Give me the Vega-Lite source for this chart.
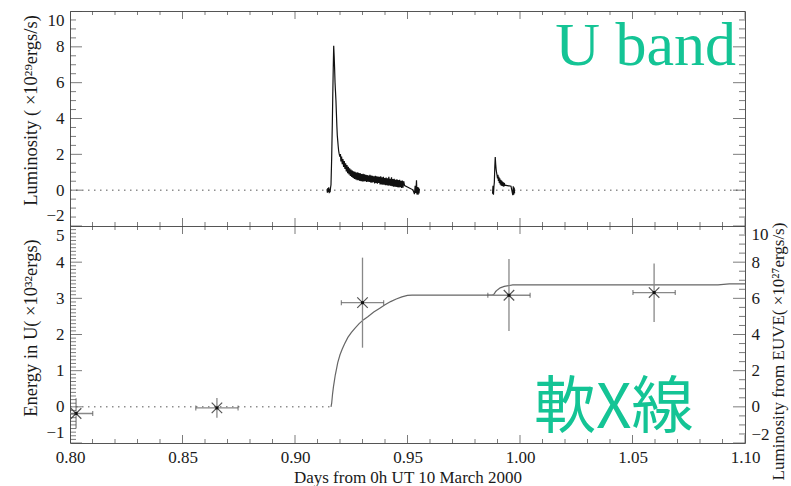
{
  "$schema": "https://vega.github.io/schema/vega-lite/v6.json",
  "padding": {"left": 20, "top": 10, "right": 2, "bottom": 0},
  "background": "white",
  "bounds": "flush",
  "spacing": 0,
  "config": {
    "view": {"stroke": "#555", "strokeWidth": 1},
    "axis": {"grid": false},
    "font": "Liberation Serif"
  },
  "datasets": {
    "u_base": [{"t0": 0.80, "t1": 1.10, "v": 0}],
    "e_base": [{"t0": 0.80, "t1": 0.916, "v": 0}],
    "xticks": [
      {"v": 0.80}, {"v": 0.81}, {"v": 0.82}, {"v": 0.83}, {"v": 0.84}, {"v": 0.85}, {"v": 0.86}, {"v": 0.87},
      {"v": 0.88}, {"v": 0.89}, {"v": 0.90}, {"v": 0.91}, {"v": 0.92}, {"v": 0.93}, {"v": 0.94}, {"v": 0.95},
      {"v": 0.96}, {"v": 0.97}, {"v": 0.98}, {"v": 0.99}, {"v": 1.00}, {"v": 1.01}, {"v": 1.02}, {"v": 1.03},
      {"v": 1.04}, {"v": 1.05}, {"v": 1.06}, {"v": 1.07}, {"v": 1.08}, {"v": 1.09}, {"v": 1.10}
    ],
    "yticks_lum": [
      {"v": -2}, {"v": -1.5}, {"v": -1}, {"v": -0.5}, {"v": 0}, {"v": 0.5}, {"v": 1}, {"v": 1.5}, {"v": 2},
      {"v": 2.5}, {"v": 3}, {"v": 3.5}, {"v": 4}, {"v": 4.5}, {"v": 5}, {"v": 5.5}, {"v": 6}, {"v": 6.5},
      {"v": 7}, {"v": 7.5}, {"v": 8}, {"v": 8.5}, {"v": 9}, {"v": 9.5}, {"v": 10}
    ],
    "yticks_energy": [
      {"v": -1}, {"v": -0.9}, {"v": -0.8}, {"v": -0.7}, {"v": -0.6}, {"v": -0.5}, {"v": -0.4}, {"v": -0.3}, {"v": -0.2}, {"v": -0.1},
      {"v": 0}, {"v": 0.1}, {"v": 0.2}, {"v": 0.3}, {"v": 0.4}, {"v": 0.5}, {"v": 0.6}, {"v": 0.7}, {"v": 0.8}, {"v": 0.9},
      {"v": 1}, {"v": 1.1}, {"v": 1.2}, {"v": 1.3}, {"v": 1.4}, {"v": 1.5}, {"v": 1.6}, {"v": 1.7}, {"v": 1.8}, {"v": 1.9},
      {"v": 2}, {"v": 2.1}, {"v": 2.2}, {"v": 2.3}, {"v": 2.4}, {"v": 2.5}, {"v": 2.6}, {"v": 2.7}, {"v": 2.8}, {"v": 2.9},
      {"v": 3}, {"v": 3.1}, {"v": 3.2}, {"v": 3.3}, {"v": 3.4}, {"v": 3.5}, {"v": 3.6}, {"v": 3.7}, {"v": 3.8}, {"v": 3.9},
      {"v": 4}, {"v": 4.1}, {"v": 4.2}, {"v": 4.3}, {"v": 4.4}, {"v": 4.5}, {"v": 4.6}, {"v": 4.7}, {"v": 4.8}, {"v": 4.9},
      {"v": 5}
    ],
    "u_band": [
      {"t": 0.9142, "L": 0.05, "seg": 1}, {"t": 0.9144, "L": -0.14, "seg": 1}, {"t": 0.9146, "L": 0.12, "seg": 1},
      {"t": 0.9148, "L": -0.10, "seg": 1}, {"t": 0.9150, "L": 0.16, "seg": 1}, {"t": 0.9152, "L": -0.17, "seg": 1},
      {"t": 0.9154, "L": 0.08, "seg": 1}, {"t": 0.9156, "L": -0.12, "seg": 1}, {"t": 0.9158, "L": 0.14, "seg": 1},
      {"t": 0.9160, "L": 0.30, "seg": 1}, {"t": 0.9163, "L": 1.80, "seg": 1}, {"t": 0.9166, "L": 3.80, "seg": 1},
      {"t": 0.9168, "L": 5.40, "seg": 1}, {"t": 0.9170, "L": 6.80, "seg": 1}, {"t": 0.9172, "L": 8.06, "seg": 1},
      {"t": 0.9174, "L": 7.50, "seg": 1}, {"t": 0.9176, "L": 6.80, "seg": 1}, {"t": 0.9178, "L": 6.00, "seg": 1},
      {"t": 0.9180, "L": 5.50, "seg": 1}, {"t": 0.9182, "L": 5.00, "seg": 1}, {"t": 0.9184, "L": 4.30, "seg": 1},
      {"t": 0.9186, "L": 3.60, "seg": 1}, {"t": 0.9188, "L": 3.05, "seg": 1}, {"t": 0.9190, "L": 2.75, "seg": 1},
      {"t": 0.9192, "L": 2.45, "seg": 1}, {"t": 0.9194, "L": 2.20, "seg": 1}, {"t": 0.9196, "L": 2.05, "seg": 1},
      {"t": 0.9198, "L": 1.95, "seg": 1}, {"t": 0.9200, "L": 1.86, "seg": 1}, {"t": 0.9202, "L": 2.02, "seg": 1},
      {"t": 0.9204, "L": 1.60, "seg": 1}, {"t": 0.9207, "L": 1.88, "seg": 1}, {"t": 0.9210, "L": 1.45, "seg": 1},
      {"t": 0.9213, "L": 1.74, "seg": 1}, {"t": 0.9216, "L": 1.30, "seg": 1}, {"t": 0.9219, "L": 1.62, "seg": 1},
      {"t": 0.9222, "L": 1.18, "seg": 1}, {"t": 0.9225, "L": 1.50, "seg": 1}, {"t": 0.9228, "L": 1.05, "seg": 1},
      {"t": 0.9231, "L": 1.40, "seg": 1}, {"t": 0.9234, "L": 0.95, "seg": 1}, {"t": 0.9237, "L": 1.30, "seg": 1},
      {"t": 0.9240, "L": 0.88, "seg": 1}, {"t": 0.9243, "L": 1.22, "seg": 1}, {"t": 0.9246, "L": 0.80, "seg": 1},
      {"t": 0.9249, "L": 1.15, "seg": 1}, {"t": 0.9252, "L": 0.74, "seg": 1}, {"t": 0.9255, "L": 1.10, "seg": 1},
      {"t": 0.9258, "L": 0.68, "seg": 1}, {"t": 0.9261, "L": 1.05, "seg": 1}, {"t": 0.9264, "L": 0.62, "seg": 1},
      {"t": 0.9267, "L": 1.02, "seg": 1}, {"t": 0.9270, "L": 0.60, "seg": 1}, {"t": 0.9273, "L": 0.98, "seg": 1},
      {"t": 0.9276, "L": 0.56, "seg": 1}, {"t": 0.9279, "L": 1.00, "seg": 1}, {"t": 0.9282, "L": 0.55, "seg": 1},
      {"t": 0.9285, "L": 0.95, "seg": 1}, {"t": 0.9288, "L": 0.52, "seg": 1}, {"t": 0.9291, "L": 0.94, "seg": 1},
      {"t": 0.9294, "L": 0.50, "seg": 1}, {"t": 0.9297, "L": 0.90, "seg": 1}, {"t": 0.9300, "L": 0.48, "seg": 1},
      {"t": 0.9303, "L": 0.92, "seg": 1}, {"t": 0.9306, "L": 0.48, "seg": 1}, {"t": 0.9309, "L": 0.88, "seg": 1},
      {"t": 0.9312, "L": 0.50, "seg": 1}, {"t": 0.9315, "L": 0.86, "seg": 1}, {"t": 0.9318, "L": 0.46, "seg": 1},
      {"t": 0.9321, "L": 0.84, "seg": 1}, {"t": 0.9324, "L": 0.48, "seg": 1}, {"t": 0.9327, "L": 0.82, "seg": 1},
      {"t": 0.9330, "L": 0.46, "seg": 1}, {"t": 0.9333, "L": 0.86, "seg": 1}, {"t": 0.9336, "L": 0.43, "seg": 1},
      {"t": 0.9339, "L": 0.82, "seg": 1}, {"t": 0.9342, "L": 0.42, "seg": 1}, {"t": 0.9345, "L": 0.80, "seg": 1},
      {"t": 0.9348, "L": 0.44, "seg": 1}, {"t": 0.9351, "L": 0.78, "seg": 1}, {"t": 0.9354, "L": 0.38, "seg": 1},
      {"t": 0.9357, "L": 0.80, "seg": 1}, {"t": 0.9360, "L": 0.40, "seg": 1}, {"t": 0.9363, "L": 0.78, "seg": 1},
      {"t": 0.9366, "L": 0.36, "seg": 1}, {"t": 0.9369, "L": 0.76, "seg": 1}, {"t": 0.9372, "L": 0.40, "seg": 1},
      {"t": 0.9375, "L": 0.74, "seg": 1}, {"t": 0.9378, "L": 0.32, "seg": 1}, {"t": 0.9381, "L": 0.78, "seg": 1},
      {"t": 0.9384, "L": 0.32, "seg": 1}, {"t": 0.9387, "L": 0.72, "seg": 1}, {"t": 0.9390, "L": 0.30, "seg": 1},
      {"t": 0.9393, "L": 0.74, "seg": 1}, {"t": 0.9396, "L": 0.30, "seg": 1}, {"t": 0.9399, "L": 0.68, "seg": 1},
      {"t": 0.9402, "L": 0.28, "seg": 1}, {"t": 0.9405, "L": 0.70, "seg": 1}, {"t": 0.9408, "L": 0.28, "seg": 1},
      {"t": 0.9411, "L": 0.66, "seg": 1}, {"t": 0.9414, "L": 0.25, "seg": 1}, {"t": 0.9417, "L": 0.74, "seg": 1},
      {"t": 0.9420, "L": 0.26, "seg": 1}, {"t": 0.9423, "L": 0.64, "seg": 1}, {"t": 0.9426, "L": 0.24, "seg": 1},
      {"t": 0.9429, "L": 0.72, "seg": 1}, {"t": 0.9432, "L": 0.22, "seg": 1}, {"t": 0.9435, "L": 0.62, "seg": 1},
      {"t": 0.9438, "L": 0.20, "seg": 1}, {"t": 0.9441, "L": 0.64, "seg": 1}, {"t": 0.9444, "L": 0.20, "seg": 1},
      {"t": 0.9447, "L": 0.58, "seg": 1}, {"t": 0.9450, "L": 0.18, "seg": 1}, {"t": 0.9453, "L": 0.60, "seg": 1},
      {"t": 0.9456, "L": 0.16, "seg": 1}, {"t": 0.9459, "L": 0.56, "seg": 1}, {"t": 0.9462, "L": 0.15, "seg": 1},
      {"t": 0.9465, "L": 0.58, "seg": 1}, {"t": 0.9468, "L": 0.16, "seg": 1}, {"t": 0.9471, "L": 0.52, "seg": 1},
      {"t": 0.9474, "L": 0.12, "seg": 1}, {"t": 0.9477, "L": 0.54, "seg": 1}, {"t": 0.9480, "L": 0.14, "seg": 1},
      {"t": 0.9483, "L": 0.50, "seg": 1}, {"t": 0.9487, "L": 0.26, "seg": 1}, {"t": 0.9524, "L": 0.02, "seg": 1},
      {"t": 0.9531, "L": -0.22, "seg": 1}, {"t": 0.9534, "L": 0.24, "seg": 1}, {"t": 0.9537, "L": -0.16, "seg": 1},
      {"t": 0.9540, "L": 0.55, "seg": 1}, {"t": 0.9542, "L": -0.24, "seg": 1}, {"t": 0.9545, "L": 0.18, "seg": 1},
      {"t": 0.9547, "L": -0.26, "seg": 1}, {"t": 0.9549, "L": 0.14, "seg": 1}, {"t": 0.9551, "L": -0.18, "seg": 1},
      {"t": 0.9553, "L": 0.08, "seg": 1},
      {"t": 0.9878, "L": -0.20, "seg": 2}, {"t": 0.9880, "L": 0.24, "seg": 2}, {"t": 0.9882, "L": -0.26, "seg": 2},
      {"t": 0.9884, "L": 0.18, "seg": 2}, {"t": 0.9886, "L": 0.45, "seg": 2}, {"t": 0.9888, "L": 1.30, "seg": 2},
      {"t": 0.9890, "L": 1.85, "seg": 2}, {"t": 0.9892, "L": 1.45, "seg": 2}, {"t": 0.9894, "L": 1.15, "seg": 2},
      {"t": 0.9896, "L": 0.98, "seg": 2}, {"t": 0.9898, "L": 0.82, "seg": 2}, {"t": 0.9900, "L": 0.66, "seg": 2},
      {"t": 0.9902, "L": 0.86, "seg": 2}, {"t": 0.9904, "L": 0.52, "seg": 2}, {"t": 0.9906, "L": 0.74, "seg": 2},
      {"t": 0.9908, "L": 0.40, "seg": 2}, {"t": 0.9910, "L": 0.66, "seg": 2}, {"t": 0.9912, "L": 0.32, "seg": 2},
      {"t": 0.9914, "L": 0.58, "seg": 2}, {"t": 0.9916, "L": 0.26, "seg": 2}, {"t": 0.9918, "L": 0.54, "seg": 2},
      {"t": 0.9920, "L": 0.24, "seg": 2}, {"t": 0.9922, "L": 0.48, "seg": 2}, {"t": 0.9924, "L": 0.22, "seg": 2},
      {"t": 0.9926, "L": 0.44, "seg": 2}, {"t": 0.9928, "L": 0.20, "seg": 2}, {"t": 0.9930, "L": 0.40, "seg": 2},
      {"t": 0.9933, "L": 0.28, "seg": 2}, {"t": 0.9960, "L": 0.22, "seg": 2}, {"t": 0.9968, "L": -0.28, "seg": 2},
      {"t": 0.9970, "L": 0.22, "seg": 2}, {"t": 0.9972, "L": -0.26, "seg": 2}, {"t": 0.9974, "L": 0.14, "seg": 2},
      {"t": 0.9976, "L": -0.18, "seg": 2}
    ],
    "energy": [
      {"t": 0.9160, "E": 0.00}, {"t": 0.9163, "E": 0.10}, {"t": 0.9167, "E": 0.36},
      {"t": 0.9171, "E": 0.56}, {"t": 0.9175, "E": 0.72}, {"t": 0.9179, "E": 0.88},
      {"t": 0.9183, "E": 1.00}, {"t": 0.9190, "E": 1.22}, {"t": 0.9200, "E": 1.44},
      {"t": 0.9210, "E": 1.60}, {"t": 0.9220, "E": 1.74}, {"t": 0.9235, "E": 1.92},
      {"t": 0.9250, "E": 2.05}, {"t": 0.9265, "E": 2.16}, {"t": 0.9285, "E": 2.30},
      {"t": 0.9305, "E": 2.41}, {"t": 0.9325, "E": 2.50}, {"t": 0.9350, "E": 2.62},
      {"t": 0.9375, "E": 2.72}, {"t": 0.9400, "E": 2.82}, {"t": 0.9425, "E": 2.91},
      {"t": 0.9450, "E": 2.98}, {"t": 0.9475, "E": 3.04}, {"t": 0.9500, "E": 3.08},
      {"t": 0.9520, "E": 3.09}, {"t": 0.9878, "E": 3.09}, {"t": 0.9885, "E": 3.12},
      {"t": 0.9892, "E": 3.19}, {"t": 0.9901, "E": 3.24}, {"t": 0.9912, "E": 3.29},
      {"t": 0.9930, "E": 3.33}, {"t": 0.9968, "E": 3.37}, {"t": 1.0880, "E": 3.37},
      {"t": 1.0930, "E": 3.40}, {"t": 1.1000, "E": 3.40}
    ],
    "euve": [
      {"t": 0.8027, "tlo": 0.7953, "thi": 0.8101, "L": -0.37, "Llo": -1.20, "Lhi": 0.48},
      {"t": 0.8653, "tlo": 0.8559, "thi": 0.8747, "L": -0.06, "Llo": -0.61, "Lhi": 0.49},
      {"t": 0.9300, "tlo": 0.9206, "thi": 0.9394, "L": 5.76, "Llo": 3.27, "Lhi": 8.25},
      {"t": 0.9951, "tlo": 0.9857, "thi": 1.0045, "L": 6.17, "Llo": 4.19, "Lhi": 8.18},
      {"t": 1.0596, "tlo": 1.0502, "thi": 1.0690, "L": 6.32, "Llo": 4.69, "Lhi": 7.92}
    ]
  },
  "vconcat": [
    {
      "width": 675,
      "height": 215,
      "layer": [
        {
          "data": {"name": "u_base"},
          "mark": {"type": "rule", "color": "#555", "strokeWidth": 1, "strokeDash": [1.5, 4.5]},
          "encoding": {
            "x": {"field": "t0", "type": "quantitative", "scale": {"domain": [0.8, 1.1], "nice": false, "zero": false}, "axis": null},
            "x2": {"field": "t1"},
            "y": {"field": "v", "type": "quantitative",
              "scale": {"domain": [-2, 10], "nice": false, "zero": false},
              "axis": {"orient": "left", "values": [-2, 0, 2, 4, 6, 8, 10], "ticks": false, "domain": false,
                "labelFlush": true, "labelFlushOffset": -1.5, "labelPadding": 6, "labelFont": "Liberation Serif", "labelFontSize": 17, "labelColor": "#1a1a1a",
                "title": "Luminosity ( ×10²⁹ergs/s)", "titleFont": "Liberation Serif", "titleFontSize": 18.5,
                "titleFontWeight": "normal", "titleColor": "#1a1a1a", "titleAngle": 270, "titleAlign": "center",
                "titleBaseline": "middle", "titleX": -39.5, "titleY": 99}}
          }
        },
        {
          "data": {"name": "u_band"},
          "mark": {"type": "line", "color": "#111", "strokeWidth": 1.2, "clip": true},
          "encoding": {
            "x": {"field": "t", "type": "quantitative", "scale": {"domain": [0.8, 1.1], "nice": false, "zero": false}, "axis": null},
            "y": {"field": "L", "type": "quantitative", "scale": {"domain": [-2, 10], "nice": false, "zero": false}, "axis": null},
            "detail": {"field": "seg", "type": "nominal"}
          }
        },
        {
          "data": {"values": [{"name": "U band"}]},
          "mark": {"type": "text", "font": "Liberation Serif", "fontSize": 62, "color": "#14c495", "align": "right", "baseline": "alphabetic"},
          "encoding": {
            "x": {"datum": 1.096, "type": "quantitative", "scale": {"domain": [0.8, 1.1], "nice": false, "zero": false}, "axis": null},
            "y": {"datum": 7.0, "type": "quantitative", "scale": {"domain": [-2, 10], "nice": false, "zero": false}, "axis": null},
            "text": {"field": "name", "type": "nominal"}
          }
        },
        {
          "data": {"name": "xticks"},
          "transform": [{"filter": "abs(datum.v*20-round(datum.v*20))<0.001"}],
          "mark": {"type": "tick", "orient": "vertical", "color": "#444", "size": 16, "thickness": 1, "clip": true},
          "encoding": {
            "x": {"field": "v", "type": "quantitative", "scale": {"domain": [0.8, 1.1], "nice": false, "zero": false}, "axis": null},
            "y": {"datum": -2, "type": "quantitative", "scale": {"domain": [-2, 10], "nice": false, "zero": false}, "axis": null}
          }
        },
        {
          "data": {"name": "xticks"},
          "transform": [{"filter": "abs(datum.v*20-round(datum.v*20))>=0.001"}],
          "mark": {"type": "tick", "orient": "vertical", "color": "#444", "size": 8, "thickness": 1, "clip": true},
          "encoding": {
            "x": {"field": "v", "type": "quantitative", "scale": {"domain": [0.8, 1.1], "nice": false, "zero": false}, "axis": null},
            "y": {"datum": -2, "type": "quantitative", "scale": {"domain": [-2, 10], "nice": false, "zero": false}, "axis": null}
          }
        },
        {
          "data": {"name": "xticks"},
          "transform": [{"filter": "abs(datum.v*20-round(datum.v*20))<0.001"}],
          "mark": {"type": "tick", "orient": "vertical", "color": "#444", "size": 16, "thickness": 1, "clip": true},
          "encoding": {
            "x": {"field": "v", "type": "quantitative", "scale": {"domain": [0.8, 1.1], "nice": false, "zero": false}, "axis": null},
            "y": {"datum": 10, "type": "quantitative", "scale": {"domain": [-2, 10], "nice": false, "zero": false}, "axis": null}
          }
        },
        {
          "data": {"name": "xticks"},
          "transform": [{"filter": "abs(datum.v*20-round(datum.v*20))>=0.001"}],
          "mark": {"type": "tick", "orient": "vertical", "color": "#444", "size": 8, "thickness": 1, "clip": true},
          "encoding": {
            "x": {"field": "v", "type": "quantitative", "scale": {"domain": [0.8, 1.1], "nice": false, "zero": false}, "axis": null},
            "y": {"datum": 10, "type": "quantitative", "scale": {"domain": [-2, 10], "nice": false, "zero": false}, "axis": null}
          }
        },
        {
          "data": {"name": "yticks_lum"},
          "transform": [{"filter": "abs(datum.v/2-round(datum.v/2))<0.001"}],
          "mark": {"type": "tick", "orient": "horizontal", "color": "#444", "size": 24, "thickness": 1, "clip": true},
          "encoding": {
            "x": {"datum": 0.8, "type": "quantitative", "scale": {"domain": [0.8, 1.1], "nice": false, "zero": false}, "axis": null},
            "y": {"field": "v", "type": "quantitative", "scale": {"domain": [-2, 10], "nice": false, "zero": false}, "axis": null}
          }
        },
        {
          "data": {"name": "yticks_lum"},
          "transform": [{"filter": "abs(datum.v/2-round(datum.v/2))>=0.001"}],
          "mark": {"type": "tick", "orient": "horizontal", "color": "#444", "size": 12, "thickness": 1, "clip": true},
          "encoding": {
            "x": {"datum": 0.8, "type": "quantitative", "scale": {"domain": [0.8, 1.1], "nice": false, "zero": false}, "axis": null},
            "y": {"field": "v", "type": "quantitative", "scale": {"domain": [-2, 10], "nice": false, "zero": false}, "axis": null}
          }
        },
        {
          "data": {"name": "yticks_lum"},
          "transform": [{"filter": "abs(datum.v/2-round(datum.v/2))<0.001"}],
          "mark": {"type": "tick", "orient": "horizontal", "color": "#444", "size": 24, "thickness": 1, "clip": true},
          "encoding": {
            "x": {"datum": 1.1, "type": "quantitative", "scale": {"domain": [0.8, 1.1], "nice": false, "zero": false}, "axis": null},
            "y": {"field": "v", "type": "quantitative", "scale": {"domain": [-2, 10], "nice": false, "zero": false}, "axis": null}
          }
        },
        {
          "data": {"name": "yticks_lum"},
          "transform": [{"filter": "abs(datum.v/2-round(datum.v/2))>=0.001"}],
          "mark": {"type": "tick", "orient": "horizontal", "color": "#444", "size": 12, "thickness": 1, "clip": true},
          "encoding": {
            "x": {"datum": 1.1, "type": "quantitative", "scale": {"domain": [0.8, 1.1], "nice": false, "zero": false}, "axis": null},
            "y": {"field": "v", "type": "quantitative", "scale": {"domain": [-2, 10], "nice": false, "zero": false}, "axis": null}
          }
        }
      ],
      "resolve": {"axis": {"x": "independent", "y": "independent"}}
    },
    {
      "width": 675,
      "height": 217,
      "layer": [
        {
          "data": {"name": "e_base"},
          "mark": {"type": "rule", "color": "#555", "strokeWidth": 1, "strokeDash": [1.5, 4.5]},
          "encoding": {
            "x": {"field": "t0", "type": "quantitative",
              "scale": {"domain": [0.8, 1.1], "nice": false, "zero": false},
              "axis": {"orient": "bottom", "values": [0.8, 0.85, 0.9, 0.95, 1.0, 1.05, 1.1], "format": ".2f",
                "ticks": false, "domain": false, "labelFlush": false, "labelPadding": 6,
                "labelFont": "Liberation Serif", "labelFontSize": 17, "labelColor": "#1a1a1a",
                "title": "Days from 0h UT 10 March 2000", "titleFont": "Liberation Serif", "titleFontSize": 17,
                "titleFontWeight": "normal", "titleColor": "#1a1a1a", "titleBaseline": "middle", "titleY": 34}},
            "x2": {"field": "t1"},
            "y": {"field": "v", "type": "quantitative",
              "scale": {"domain": [-1, 5], "nice": false, "zero": false},
              "axis": {"orient": "left", "values": [-1, 0, 1, 2, 3, 4, 5], "ticks": false, "domain": false,
                "labelFlush": true, "labelFlushOffset": -1.5, "labelPadding": 6, "labelFont": "Liberation Serif", "labelFontSize": 17, "labelColor": "#1a1a1a",
                "title": "Energy in U( ×10³²ergs)", "titleFont": "Liberation Serif", "titleFontSize": 18.5,
                "titleFontWeight": "normal", "titleColor": "#1a1a1a", "titleAngle": 270, "titleAlign": "center",
                "titleBaseline": "middle", "titleX": -39.5, "titleY": 101.5}}
          }
        },
        {
          "data": {"name": "energy"},
          "mark": {"type": "line", "color": "#666", "strokeWidth": 1.2, "clip": true},
          "encoding": {
            "x": {"field": "t", "type": "quantitative", "scale": {"domain": [0.8, 1.1], "nice": false, "zero": false}, "axis": null},
            "y": {"field": "E", "type": "quantitative", "scale": {"domain": [-1, 5], "nice": false, "zero": false}, "axis": null}
          }
        },
        {
          "data": {"values": [{"name": "軟X線"}]},
          "mark": {"type": "text", "font": "Noto Sans CJK JP", "fontSize": 62, "color": "#14c495", "align": "left", "baseline": "alphabetic"},
          "encoding": {
            "x": {"datum": 1.0062, "type": "quantitative", "scale": {"domain": [0.8, 1.1], "nice": false, "zero": false}, "axis": null},
            "y": {"datum": -0.59, "type": "quantitative", "scale": {"domain": [-1, 5], "nice": false, "zero": false}, "axis": null},
            "text": {"field": "name", "type": "nominal"}
          }
        },
        {
          "data": {"name": "euve"},
          "mark": {"type": "rule", "color": "#888", "strokeWidth": 1.3, "clip": true},
          "encoding": {
            "x": {"field": "t", "type": "quantitative", "scale": {"domain": [0.8, 1.1], "nice": false, "zero": false}, "axis": null},
            "y": {"field": "Llo", "type": "quantitative",
              "scale": {"domain": [-2, 10], "nice": false, "zero": false},
              "axis": {"orient": "right", "values": [-2, 0, 2, 4, 6, 8, 10], "ticks": false, "domain": false,
                "labelFlush": true, "labelPadding": 6, "labelFont": "Liberation Serif", "labelFontSize": 17, "labelColor": "#1a1a1a",
                "title": "Luminosity from EUVE( ×10²⁷ergs/s)", "titleFont": "Liberation Serif", "titleFontSize": 17,
                "titleFontWeight": "normal", "titleColor": "#1a1a1a", "titleAngle": 270, "titleAlign": "center",
                "titleBaseline": "middle", "titleX": 33, "titleY": 125}},
            "y2": {"field": "Lhi"}
          }
        },
        {
          "data": {"name": "euve"},
          "mark": {"type": "rule", "color": "#888", "strokeWidth": 1.3, "clip": true},
          "encoding": {
            "x": {"field": "tlo", "type": "quantitative", "scale": {"domain": [0.8, 1.1], "nice": false, "zero": false}, "axis": null},
            "x2": {"field": "thi"},
            "y": {"field": "L", "type": "quantitative", "scale": {"domain": [-2, 10], "nice": false, "zero": false}, "axis": null}
          }
        },
        {
          "data": {"name": "euve"},
          "mark": {"type": "tick", "orient": "vertical", "color": "#555", "size": 5, "thickness": 1.2, "clip": true},
          "encoding": {
            "x": {"field": "tlo", "type": "quantitative", "scale": {"domain": [0.8, 1.1], "nice": false, "zero": false}, "axis": null},
            "y": {"field": "L", "type": "quantitative", "scale": {"domain": [-2, 10], "nice": false, "zero": false}, "axis": null}
          }
        },
        {
          "data": {"name": "euve"},
          "mark": {"type": "tick", "orient": "vertical", "color": "#555", "size": 5, "thickness": 1.2, "clip": true},
          "encoding": {
            "x": {"field": "thi", "type": "quantitative", "scale": {"domain": [0.8, 1.1], "nice": false, "zero": false}, "axis": null},
            "y": {"field": "L", "type": "quantitative", "scale": {"domain": [-2, 10], "nice": false, "zero": false}, "axis": null}
          }
        },
        {
          "data": {"name": "euve"},
          "mark": {"type": "point", "shape": "M-1,-1L1,1M-1,1L1,-1", "filled": false, "stroke": "#555", "strokeWidth": 1.2, "size": 110, "opacity": 1},
          "encoding": {
            "x": {"field": "t", "type": "quantitative", "scale": {"domain": [0.8, 1.1], "nice": false, "zero": false}, "axis": null},
            "y": {"field": "L", "type": "quantitative", "scale": {"domain": [-2, 10], "nice": false, "zero": false}, "axis": null}
          }
        },
        {
          "data": {"name": "euve"},
          "mark": {"type": "square", "color": "#111", "size": 9, "opacity": 1},
          "encoding": {
            "x": {"field": "t", "type": "quantitative", "scale": {"domain": [0.8, 1.1], "nice": false, "zero": false}, "axis": null},
            "y": {"field": "L", "type": "quantitative", "scale": {"domain": [-2, 10], "nice": false, "zero": false}, "axis": null}
          }
        },
        {
          "data": {"name": "xticks"},
          "transform": [{"filter": "abs(datum.v*20-round(datum.v*20))<0.001"}],
          "mark": {"type": "tick", "orient": "vertical", "color": "#444", "size": 16, "thickness": 1, "clip": true},
          "encoding": {
            "x": {"field": "v", "type": "quantitative", "scale": {"domain": [0.8, 1.1], "nice": false, "zero": false}, "axis": null},
            "y": {"datum": -1, "type": "quantitative", "scale": {"domain": [-1, 5], "nice": false, "zero": false}, "axis": null}
          }
        },
        {
          "data": {"name": "xticks"},
          "transform": [{"filter": "abs(datum.v*20-round(datum.v*20))>=0.001"}],
          "mark": {"type": "tick", "orient": "vertical", "color": "#444", "size": 8, "thickness": 1, "clip": true},
          "encoding": {
            "x": {"field": "v", "type": "quantitative", "scale": {"domain": [0.8, 1.1], "nice": false, "zero": false}, "axis": null},
            "y": {"datum": -1, "type": "quantitative", "scale": {"domain": [-1, 5], "nice": false, "zero": false}, "axis": null}
          }
        },
        {
          "data": {"name": "xticks"},
          "transform": [{"filter": "abs(datum.v*20-round(datum.v*20))<0.001"}],
          "mark": {"type": "tick", "orient": "vertical", "color": "#444", "size": 16, "thickness": 1, "clip": true},
          "encoding": {
            "x": {"field": "v", "type": "quantitative", "scale": {"domain": [0.8, 1.1], "nice": false, "zero": false}, "axis": null},
            "y": {"datum": 5, "type": "quantitative", "scale": {"domain": [-1, 5], "nice": false, "zero": false}, "axis": null}
          }
        },
        {
          "data": {"name": "xticks"},
          "transform": [{"filter": "abs(datum.v*20-round(datum.v*20))>=0.001"}],
          "mark": {"type": "tick", "orient": "vertical", "color": "#444", "size": 8, "thickness": 1, "clip": true},
          "encoding": {
            "x": {"field": "v", "type": "quantitative", "scale": {"domain": [0.8, 1.1], "nice": false, "zero": false}, "axis": null},
            "y": {"datum": 5, "type": "quantitative", "scale": {"domain": [-1, 5], "nice": false, "zero": false}, "axis": null}
          }
        },
        {
          "data": {"name": "yticks_energy"},
          "transform": [{"filter": "abs(datum.v-round(datum.v))<0.001"}],
          "mark": {"type": "tick", "orient": "horizontal", "color": "#444", "size": 24, "thickness": 1, "clip": true},
          "encoding": {
            "x": {"datum": 0.8, "type": "quantitative", "scale": {"domain": [0.8, 1.1], "nice": false, "zero": false}, "axis": null},
            "y": {"field": "v", "type": "quantitative", "scale": {"domain": [-1, 5], "nice": false, "zero": false}, "axis": null}
          }
        },
        {
          "data": {"name": "yticks_energy"},
          "transform": [{"filter": "abs(datum.v-round(datum.v))>=0.001"}],
          "mark": {"type": "tick", "orient": "horizontal", "color": "#444", "size": 12, "thickness": 1, "clip": true},
          "encoding": {
            "x": {"datum": 0.8, "type": "quantitative", "scale": {"domain": [0.8, 1.1], "nice": false, "zero": false}, "axis": null},
            "y": {"field": "v", "type": "quantitative", "scale": {"domain": [-1, 5], "nice": false, "zero": false}, "axis": null}
          }
        },
        {
          "data": {"name": "yticks_lum"},
          "transform": [{"filter": "abs(datum.v/2-round(datum.v/2))<0.001"}],
          "mark": {"type": "tick", "orient": "horizontal", "color": "#444", "size": 24, "thickness": 1, "clip": true},
          "encoding": {
            "x": {"datum": 1.1, "type": "quantitative", "scale": {"domain": [0.8, 1.1], "nice": false, "zero": false}, "axis": null},
            "y": {"field": "v", "type": "quantitative", "scale": {"domain": [-2, 10], "nice": false, "zero": false}, "axis": null}
          }
        },
        {
          "data": {"name": "yticks_lum"},
          "transform": [{"filter": "abs(datum.v/2-round(datum.v/2))>=0.001"}],
          "mark": {"type": "tick", "orient": "horizontal", "color": "#444", "size": 12, "thickness": 1, "clip": true},
          "encoding": {
            "x": {"datum": 1.1, "type": "quantitative", "scale": {"domain": [0.8, 1.1], "nice": false, "zero": false}, "axis": null},
            "y": {"field": "v", "type": "quantitative", "scale": {"domain": [-2, 10], "nice": false, "zero": false}, "axis": null}
          }
        }
      ],
      "resolve": {"scale": {"y": "independent"}, "axis": {"x": "independent", "y": "independent"}}
    }
  ]
}
